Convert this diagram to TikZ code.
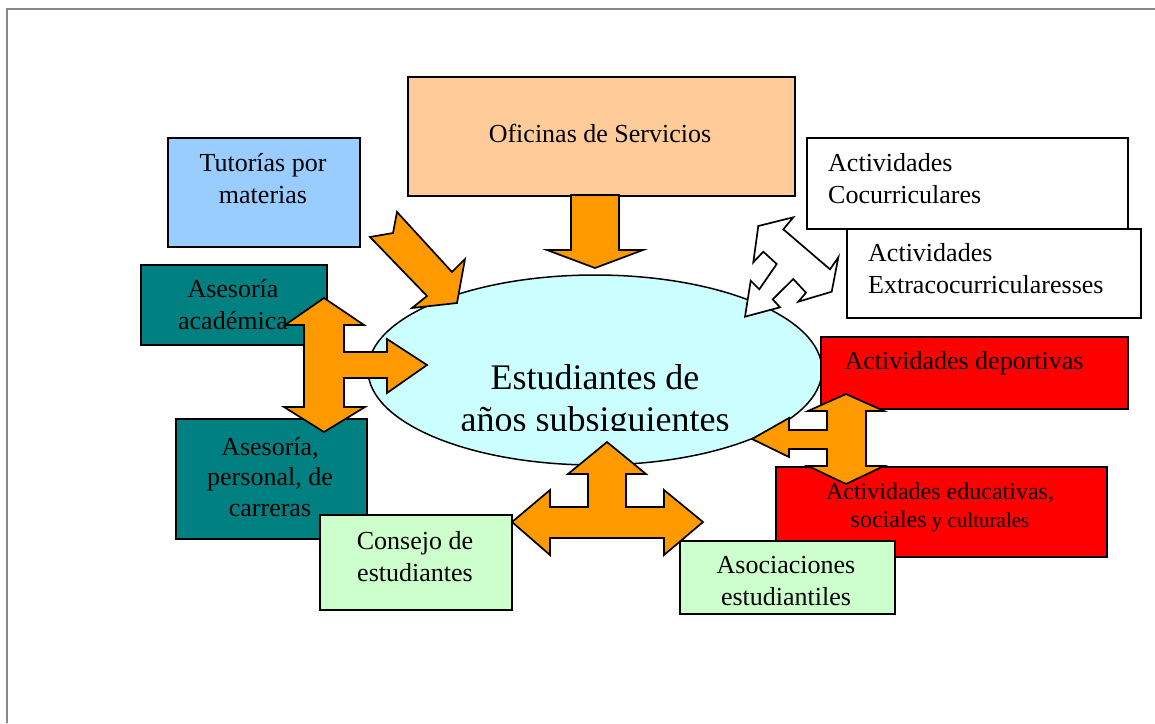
\documentclass[tikz,border=0pt]{standalone}
\usepackage{fontspec}
\setmainfont{Liberation Serif}
\usetikzlibrary{shapes.geometric}
\definecolor{orangeA}{HTML}{FF9900}
\definecolor{tutblue}{HTML}{99CCFF}
\definecolor{peach}{HTML}{FFCC99}
\definecolor{tealbox}{HTML}{008080}
\definecolor{redbox}{HTML}{FF0000}
\definecolor{greenbox}{HTML}{CCFFCC}
\definecolor{cyanell}{HTML}{CCFFFF}
\definecolor{framegray}{HTML}{888888}
\begin{document}
\begin{tikzpicture}[x=1pt,y=-1pt,
  box/.style={draw=black,line width=2pt,inner sep=0pt,anchor=north west},
  lbl/.style={font=\fontsize{26}{32}\selectfont,align=center,inner sep=0pt,text=black},
  fatarrow/.style={draw=black,line width=1.7pt,line join=miter,fill=orangeA},
  whitearrow/.style={draw=black,line width=1.7pt,line join=miter,fill=white},
]
\useasboundingbox (0,0) rectangle (1155,723);
\fill[white] (0,0) rectangle (1155,723);
% frame
\draw[framegray,line width=2pt] (7,723) -- (7,9) -- (1155,9);

% central ellipse
\node[ellipse,draw=black,line width=1.5pt,fill=cyanell,inner sep=0pt,
      minimum width=454pt,minimum height=190pt] (est) at (595,370) {};

% boxes
\node[box,fill=tutblue,minimum width=192pt,minimum height=109pt] (tut) at (167,137) {};
\node[box,fill=peach,minimum width=387pt,minimum height=119pt] (ofi) at (407,76) {};
\node[box,fill=white,minimum width=321pt,minimum height=91pt] (coc) at (806,137) {};
\node[box,fill=white,minimum width=294pt,minimum height=89pt] (ext) at (846,228) {};
\node[box,fill=tealbox,minimum width=186pt,minimum height=80pt] (asa) at (140,264) {};
\node[box,fill=redbox,minimum width=307pt,minimum height=72pt] (dep) at (820,336) {};
\node[box,fill=tealbox,minimum width=191pt,minimum height=120pt] (asp) at (175,418) {};
\node[box,fill=redbox,minimum width=331pt,minimum height=90pt] (edu) at (775,466) {};
\node[box,fill=greenbox,minimum width=192pt,minimum height=95pt] (con) at (319,514) {};
\node[box,fill=greenbox,minimum width=215pt,minimum height=73pt] (aso) at (679,540) {};

% block arrows
% Oficinas -> down
\draw[fatarrow] (571,195) -- (619,195) -- (619,250) -- (643,250) -- (595,268)
  -- (547,250) -- (571,250) -- cycle;
% Tutorias -> diagonal
\draw[fatarrow] (370,237) -- (393,233) -- (397,212) -- (452,272) -- (465,259)
  -- (457,303) -- (412,308) -- (427,296) -- cycle;
% left three-way arrow
\draw[fatarrow] (324,298) -- (364,325) -- (344,325) -- (344,352) -- (387,352)
  -- (387,339) -- (427,365) -- (387,393) -- (387,378) -- (344,378) -- (344,407)
  -- (365,407) -- (324,432) -- (284,407) -- (304,407) -- (304,325) -- (285,325) -- cycle;
% bottom three-way arrow
\draw[fatarrow] (607,442) -- (646,474) -- (626,474) -- (626,507) -- (664,507)
  -- (664,490) -- (703,522) -- (664,555) -- (664,538) -- (550,538) -- (550,555)
  -- (512,522) -- (550,490) -- (550,507) -- (588,507) -- (588,474) -- (568,474) -- cycle;
% right three-way arrow
\draw[fatarrow] (846,394) -- (884,411) -- (866,411) -- (866,466) -- (884,466)
  -- (846,484) -- (808,466) -- (827,466) -- (827,449) -- (789,449) -- (789,457)
  -- (752,439) -- (789,418) -- (789,430) -- (827,430) -- (827,411) -- (808,411) -- cycle;
% white three-way arrow
\draw[whitearrow] (793.3,217.3) -- (783.3,229.3) -- (830,269.3) -- (838.3,257.3)
  -- (831.7,291.7) -- (798.3,301.7) -- (806,292.7) -- (793.3,279) -- (772.7,299.3)
  -- (780,307.3) -- (745,316.7) -- (750.7,280.7) -- (759.3,289.3) -- (776.7,264)
  -- (763.3,251.7) -- (753.3,262.3) -- (758.3,226) -- cycle;

% texts
\node[lbl] (tutT) at (263,179) {Tutorías por\\materias};
\node[lbl] (ofiT) at (600,133) {Oficinas de Servicios};
\node[lbl,align=left,anchor=west] (cocT) at (828,179) {Actividades\\Cocurriculares};
\node[lbl,align=left,anchor=west] (extT) at (868,269) {Actividades\\Extracocurricularesses};
\node[lbl] (asaT) at (233,305) {Asesoría\\académica};
\node[lbl] (depT) at (964,363) {Actividades deportivas};
\node[lbl,font=\fontsize{26}{30.5}\selectfont] (aspT) at (270,477) {Asesoría,\\personal, de\\carreras};
\node[lbl,font=\fontsize{24}{28}\selectfont] (eduT) at (940,507)
  {Actividades educativas,\\sociales{\fontsize{21}{28}\selectfont{} y culturales}};
\node[lbl] (conT) at (415,557) {Consejo de\\estudiantes};
\node[lbl] (asoT) at (786,581) {Asociaciones\\estudiantiles};
\begin{scope}
  \clip (360,330) rectangle (830,430);
  \node[lbl,font=\fontsize{36}{42}\selectfont] (estT) at (595,402) {Estudiantes de\\años subsiguientes};
\end{scope}
\end{tikzpicture}
\end{document}
